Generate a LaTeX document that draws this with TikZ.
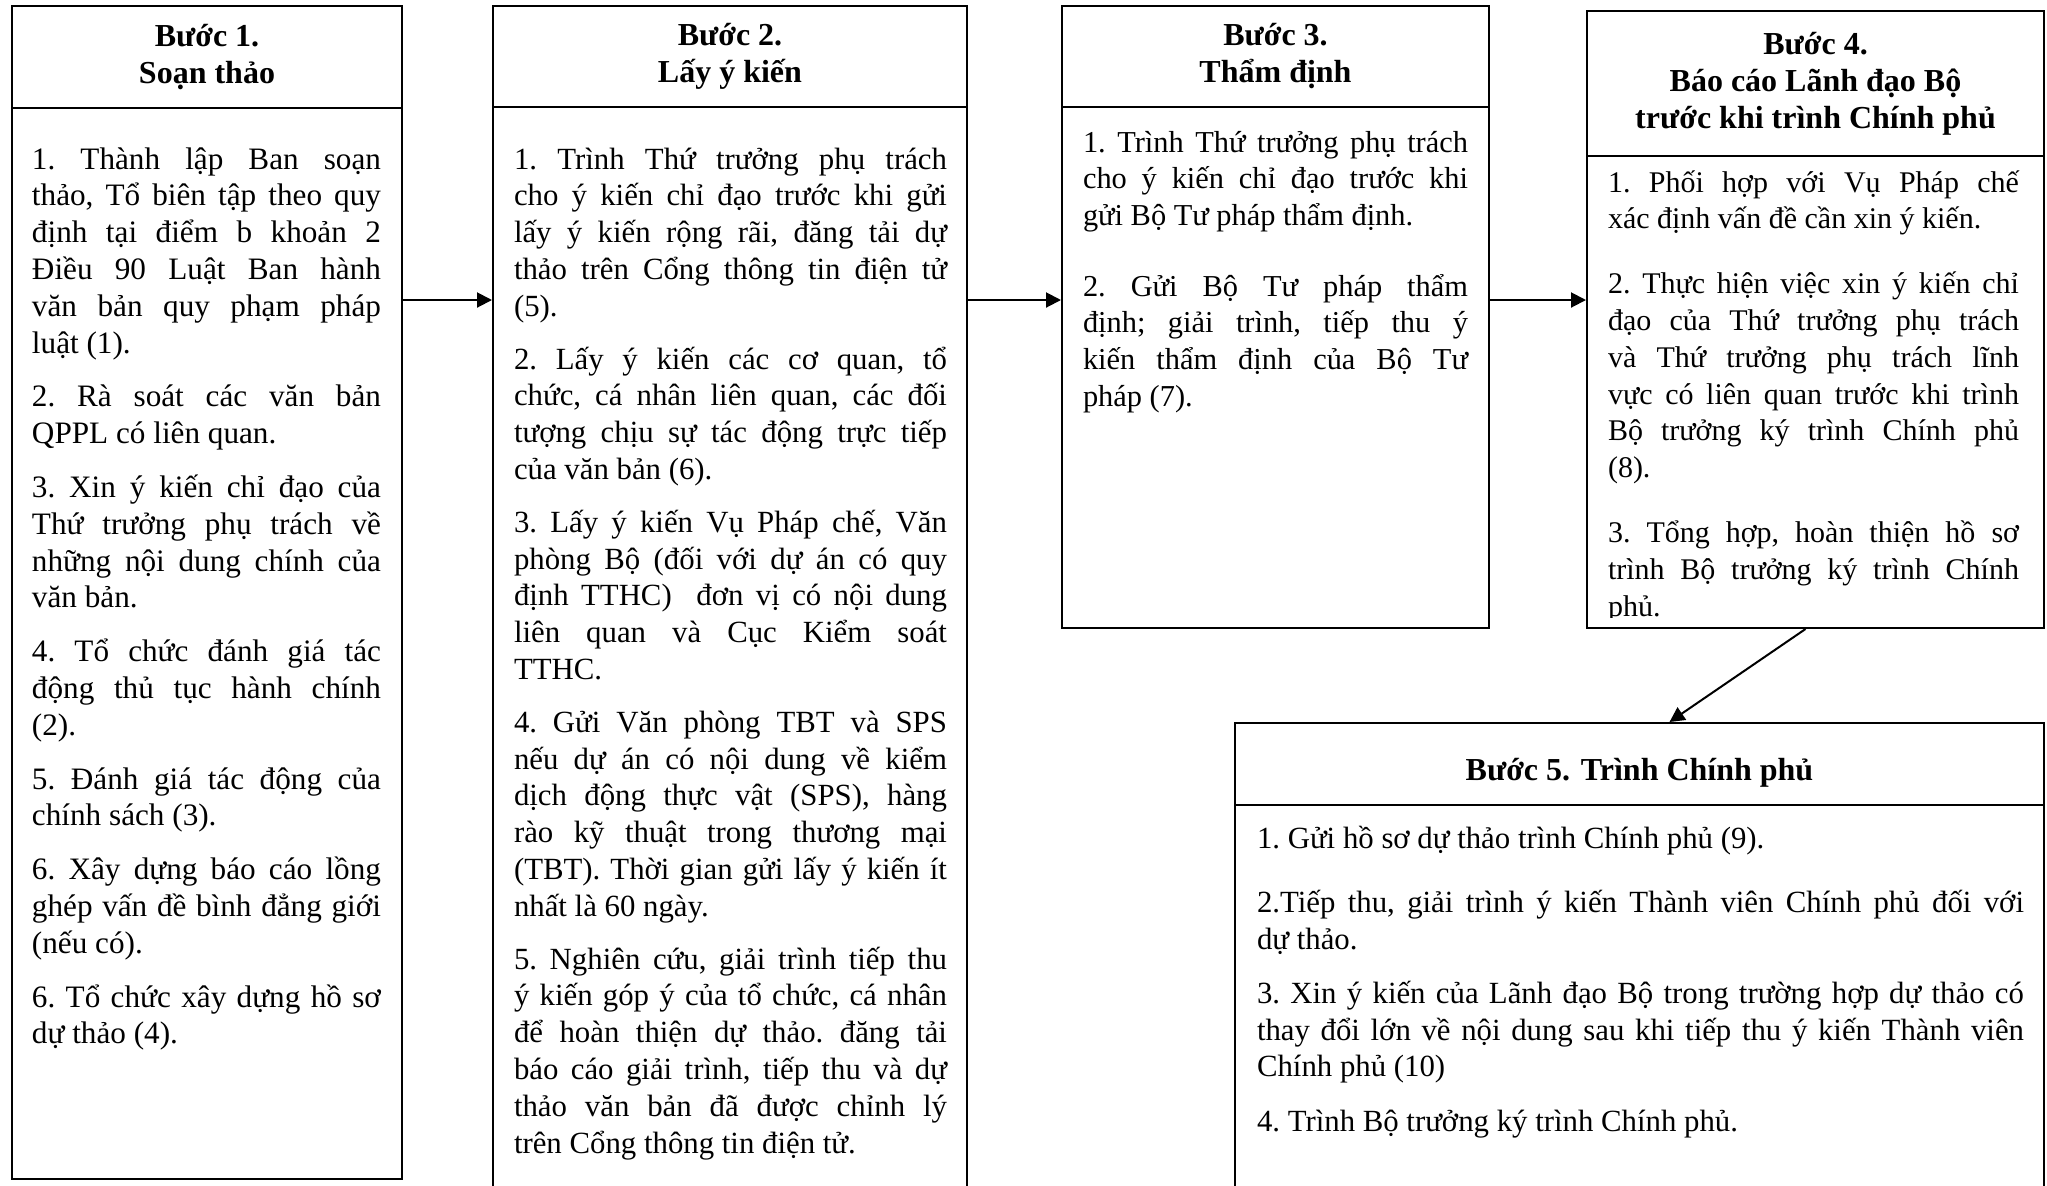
\documentclass[tikz,border=0pt]{standalone}
\usepackage{fontspec}
\setmainfont{Liberation Serif}
\usetikzlibrary{arrows.meta,fit}

\tikzset{every picture/.style={line width=1pt}}
\tikzset{
  stepbox/.style={draw, line width=1pt, inner sep=0pt},
  headbox/.style={draw, line width=0.6pt, inner sep=0pt},
  steptitle/.style={inner sep=0pt, align=center, font=\fontsize{16pt}{18.5pt}\selectfont\bfseries},
  stepbody/.style={anchor=base west, inner sep=0pt, align=justify, font=\fontsize{#1}{18.4pt}\selectfont},
  stepbody/.default=15.4pt,
  flow/.style={line width=1pt, -{Triangle[length=7.5pt,width=7.5pt]}},
}
% spacing between items, no hyphenation
\newcommand\bodyspacing[1]{\frenchspacing\setlength{\parskip}{#1}\hyphenpenalty=10000 \exhyphenpenalty=10000 \tolerance=9999 \emergencystretch=2em}

\begin{document}
\begin{tikzpicture}[x=0.5pt,y=0.5pt,yscale=-1,xscale=1]
\useasboundingbox (0,0) rectangle (2047,1185);

%Shape: Rectangle [headers]
\node (h1) [headbox, fit={(12,6) (402,108)}] {};
\node (h2) [headbox, fit={(493,6) (967,107)}] {};
\node (h3) [headbox, fit={(1062,6) (1489,107)}] {};
\node (h4) [headbox, fit={(1587,11) (2044,156)}] {};
\node (h5) [headbox, fit={(1235,723) (2044,805)}] {};

%Shape: Rectangle [steps]
\node (s1) [stepbox, fit={(12,6) (402,1179)}] {};
\node (s2) [stepbox, fit={(493,6) (967,1200)}] {};
\node (s3) [stepbox, fit={(1062,6) (1489,628)}] {};
\node (s4) [stepbox, fit={(1587,11) (2044,628)}] {};
\node (s5) [stepbox, fit={(1235,723) (2044,1200)}] {};

% Text Node
\node (t1) [steptitle] at (h1.center) {Bước 1.\\Soạn thảo};
% Text Node
\node (t2) [steptitle] at (h2.center) {Bước 2.\\Lấy ý kiến};
% Text Node
\node (t3) [steptitle] at (h3.center) {Bước 3.\\Thẩm định};
% Text Node
\node (t4) [steptitle] at (h4.center) {Bước 4.\\Báo cáo Lãnh đạo Bộ\\trước khi trình Chính phủ};
% Text Node
\node (t5) [steptitle, yshift=-4.5pt] at (h5.center) {Bước 5. Trình Chính phủ};

% Text Node
\node (b1) [stepbody=15.6pt, text width=174.5pt] at (31,169) {\bodyspacing{8.5pt}%
1. Thành lập Ban soạn\linebreak thảo, Tổ biên tập theo quy\linebreak định tại điểm b khoản 2\linebreak Điều 90 Luật Ban hành\linebreak văn bản quy phạm pháp\linebreak luật (1).\par
2. Rà soát các văn bản\linebreak QPPL có liên quan.\par
3. Xin ý kiến chỉ đạo của\linebreak Thứ trưởng phụ trách về\linebreak những nội dung chính của\linebreak văn bản.\par
4. Tổ chức đánh giá tác\linebreak động thủ tục hành chính\linebreak (2).\par
5. Đánh giá tác động của\linebreak chính sách (3).\par
6. Xây dựng báo cáo lồng\linebreak ghép vấn đề bình đẳng giới\linebreak (nếu có).\par
6. Tổ chức xây dựng hồ sơ\linebreak dự thảo (4).};

% Text Node
\node (b2) [stepbody=15.4pt, text width=216.5pt] at (513,169) {\bodyspacing{8pt}%
1. Trình Thứ trưởng phụ trách\linebreak cho ý kiến chỉ đạo trước khi gửi\linebreak lấy ý kiến rộng rãi, đăng tải dự\linebreak thảo trên Cổng thông tin điện tử\linebreak (5).\par
2. Lấy ý kiến các cơ quan, tổ\linebreak chức, cá nhân liên quan, các đối\linebreak tượng chịu sự tác động trực tiếp\linebreak của văn bản (6).\par
3. Lấy ý kiến Vụ Pháp chế, Văn\linebreak phòng Bộ (đối với dự án có quy\linebreak định TTHC)\ \ đơn vị có nội dung\linebreak liên quan và Cục Kiểm soát\linebreak TTHC.\par
4. Gửi Văn phòng TBT và SPS\linebreak nếu dự án có nội dung về kiểm\linebreak dịch động thực vật (SPS), hàng\linebreak rào kỹ thuật trong thương mại\linebreak (TBT). Thời gian gửi lấy ý kiến ít\linebreak nhất là 60 ngày.\par
5. Nghiên cứu, giải trình tiếp thu\linebreak ý kiến góp ý của tổ chức, cá nhân\linebreak để hoàn thiện dự thảo. đăng tải\linebreak báo cáo giải trình, tiếp thu và dự\linebreak thảo văn bản đã được chỉnh lý\linebreak trên Cổng thông tin điện tử.};

% Text Node
\node (b3) [stepbody=15.2pt, text width=192.5pt] at (1082,152) {\bodyspacing{16.8pt}%
1. Trình Thứ trưởng phụ trách\linebreak cho ý kiến chỉ đạo trước khi\linebreak gửi Bộ Tư pháp thẩm định.\par
2. Gửi Bộ Tư pháp thẩm\linebreak định; giải trình, tiếp thu ý\linebreak kiến thẩm định của Bộ Tư\linebreak pháp (7).};

% Text Node (cut at the bottom of the box)
\begin{scope}
\clip (1587,11) rectangle (2044,617);
\node (b4) [stepbody=15pt, text width=205.5pt] at (1607,192) {\bodyspacing{14pt}%
1. Phối hợp với Vụ Pháp chế\linebreak xác định vấn đề cần xin ý kiến.\par
2. Thực hiện việc xin ý kiến chỉ\linebreak đạo của Thứ trưởng phụ trách\linebreak và Thứ trưởng phụ trách lĩnh\linebreak vực có liên quan trước khi trình\linebreak Bộ trưởng ký trình Chính phủ\linebreak (8).\par
3. Tổng hợp, hoàn thiện hồ sơ\linebreak trình Bộ trưởng ký trình Chính\linebreak phủ.};
\end{scope}

% Text Node
\node (b5) [stepbody=15.4pt, text width=383.5pt] at (1256,848) {\bodyspacing{8.7pt}%
1. Gửi hồ sơ dự thảo trình Chính phủ (9).\par\vspace{5pt}
2.Tiếp thu, giải trình ý kiến Thành viên Chính phủ đối với\linebreak dự thảo.\par
3. Xin ý kiến của Lãnh đạo Bộ trong trường hợp dự thảo có\linebreak thay đổi lớn về nội dung sau khi tiếp thu ý kiến Thành viên\linebreak Chính phủ (10)\par
4. Trình Bộ trưởng ký trình Chính phủ.};

%Straight Lines [arrows]
\coordinate (row) at (0,300);
\draw [flow] (s1.east |- row) -- (s2.west |- row);
\draw [flow] (s2.east |- row) -- (s3.west |- row);
\draw [flow] (s3.east |- row) -- (s4.west |- row);
\draw [flow] ([xshift=-5pt]s4.south) -- ([xshift=15pt]s5.north);

\end{tikzpicture}
\end{document}
